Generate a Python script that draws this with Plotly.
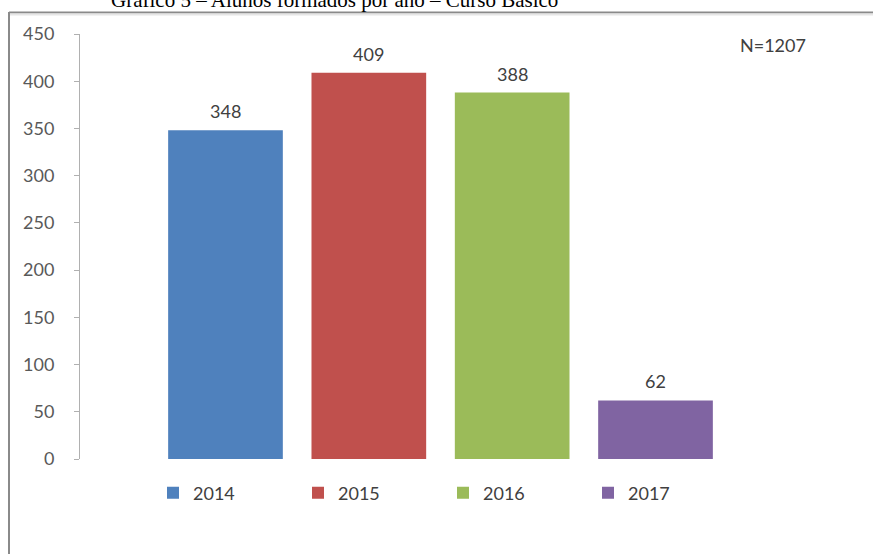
import plotly.graph_objects as go

# Graduates per year, basic course
years = ["2014", "2015", "2016", "2017"]
students = [348, 409, 388, 62]
colors = ["#4F81BD", "#C0504D", "#9BBB59", "#8064A2"]
total_label = "N=1207"
title_text = "Gráfico 5 – Alunos formados por ano – Curso Básico"
y_ticks = [0, 50, 100, 150, 200, 250, 300, 350, 400, 450]

W, H = 873, 554
L, R, T, B = 80, 72, 34, 95
pw, ph = W - L - R, H - T - B


def px_x(x):
    return (x - L) / pw


def px_y(y):
    return (H - B - y) / ph


FONT = "Lato, Open Sans, sans-serif"

fig = go.Figure()
for yr, val, col in zip(years, students, colors):
    fig.add_trace(go.Bar(
        x=[yr], y=[val], name=yr, width=0.8,
        marker=dict(color=col, line=dict(width=0)),
        hoverinfo="x+y",
    ))

annotations = []
for i, val in enumerate(students):
    annotations.append(dict(
        x=i, y=val, xref="x", yref="y", text=str(val), showarrow=False,
        yanchor="bottom", yshift=6, font=dict(family=FONT, size=18, color="#404040"),
    ))

annotations.append(dict(
    x=px_x(738), y=px_y(45), xref="paper", yref="paper", text=total_label,
    showarrow=False, xanchor="left", yanchor="middle",
    font=dict(family=FONT, size=18, color="#404040"),
))

annotations.append(dict(
    x=px_x(334), y=px_y(14.5), xref="paper", yref="paper", text=title_text,
    showarrow=False, xanchor="center", yanchor="bottom",
    font=dict(family="Liberation Serif, Times New Roman, serif", size=21, color="#000000"),
))

shapes = [
    dict(type="line", xref="paper", yref="paper",
         x0=px_x(9), x1=px_x(W + 5), y0=px_y(12.5), y1=px_y(12.5),
         line=dict(color="#8a8a8a", width=2)),
    dict(type="line", xref="paper", yref="paper",
         x0=px_x(9), x1=px_x(9), y0=px_y(12), y1=px_y(H + 5),
         line=dict(color="#8a8a8a", width=2)),
    dict(type="line", xref="paper", yref="paper",
         x0=px_x(10), x1=px_x(W + 5), y0=px_y(14.5), y1=px_y(14.5),
         line=dict(color="#e6e6e6", width=2)),
]

fig.update_layout(
    width=W, height=H,
    margin=dict(l=L, r=R, t=T, b=B, pad=0),
    paper_bgcolor="white", plot_bgcolor="white",
    barmode="overlay",
    showlegend=True,
    legend=dict(
        orientation="h", x=px_x(153), y=px_y(493), xanchor="left", yanchor="middle",
        entrywidth=100, entrywidthmode="pixels", itemwidth=30,
        font=dict(family=FONT, size=18, color="#404040"),
        bgcolor="rgba(0,0,0,0)", traceorder="normal",
    ),
    xaxis=dict(
        type="category", categoryorder="array", categoryarray=years,
        range=[-1.015, 4.015], showticklabels=False, showline=False,
        showgrid=False, zeroline=False, ticks="", fixedrange=True,
    ),
    yaxis=dict(
        range=[0, 450], tickvals=y_ticks, ticktext=[str(v) for v in y_ticks],
        showline=True, linecolor="#b0b0b0", linewidth=1,
        ticks="outside", ticklen=5, tickcolor="#b0b0b0", ticklabelstandoff=16,
        showgrid=False, zeroline=False,
        tickfont=dict(family=FONT, size=18, color="#595959"),
    ),
    annotations=annotations,
    shapes=shapes,
)

fig.write_html("out.html")
